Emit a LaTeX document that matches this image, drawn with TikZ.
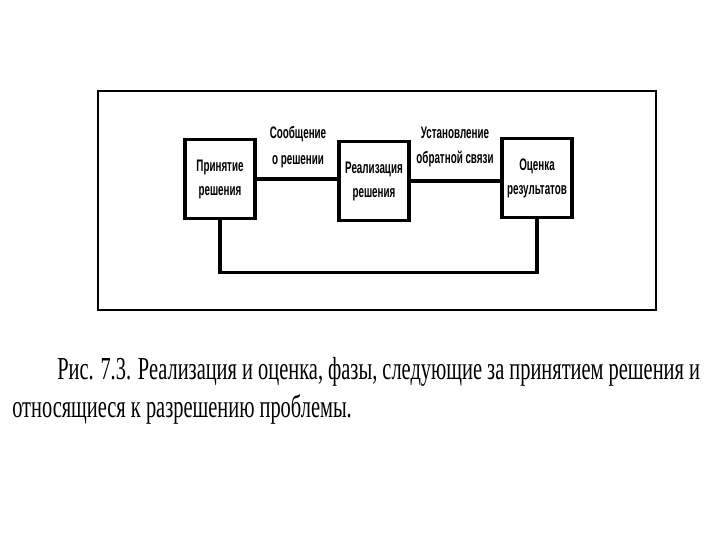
\documentclass[tikz,border=0pt]{standalone}
\usepackage{fontspec}
\usepackage{tikz}
\usetikzlibrary{positioning}
\newfontfamily\capfont[FakeStretch=0.638]{Liberation Serif}
\newfontfamily\boxfont[FakeStretch=0.59]{Liberation Sans}
\tikzset{
  stage/.style={rectangle, draw=black, fill=white, line width=2.3pt,
    minimum width=52.5pt, minimum height=59pt, inner sep=0pt, align=center,
    font=\boxfont\bfseries\fontsize{12.5}{18}\selectfont},
  lbl/.style={align=center, inner sep=0pt,
    font=\boxfont\bfseries\fontsize{12.5}{19}\selectfont},
  wire/.style={line width=2.3pt, color=black}
}

\begin{document}
\begin{tikzpicture}[x=0.75pt, y=-0.75pt]
  \useasboundingbox (0,0) rectangle (720,540);

  % Frame round the figure
  \draw[line width=2.2pt] (98,91) rectangle (656,310);

  % Stages
  \node[stage] (accept) at (220,179) {Принятие\\решения};
  \node[stage] (impl) at (374,181) {Реализация\\решения};
  \node[stage] (eval) at (537,178) {Оценка\\результатов};

  % Links between stages
  \draw[wire] (accept.east) -- (accept.east -| impl.west);
  \draw[wire] (impl.east) -- (impl.east -| eval.west);
  \draw[wire] (accept.south) -- ++(0,53) -| (eval.south);

  \node[lbl] (msg) at (298,147) {Сообщение\\о решении};
  \node[lbl] (fb) at (455,147) {Установление\\обратной связи};

  % Caption
  \node[anchor=base west, align=left, inner sep=0pt,
    font=\capfont\fontsize{24}{28.5}\selectfont] (cap) at (12,417)
    {\hspace*{33.75pt}Рис. 7.3. Реализация и оценка, фазы, следующие за принятием решения и\\
     относящиеся к разрешению проблемы.};
\end{tikzpicture}
\end{document}
